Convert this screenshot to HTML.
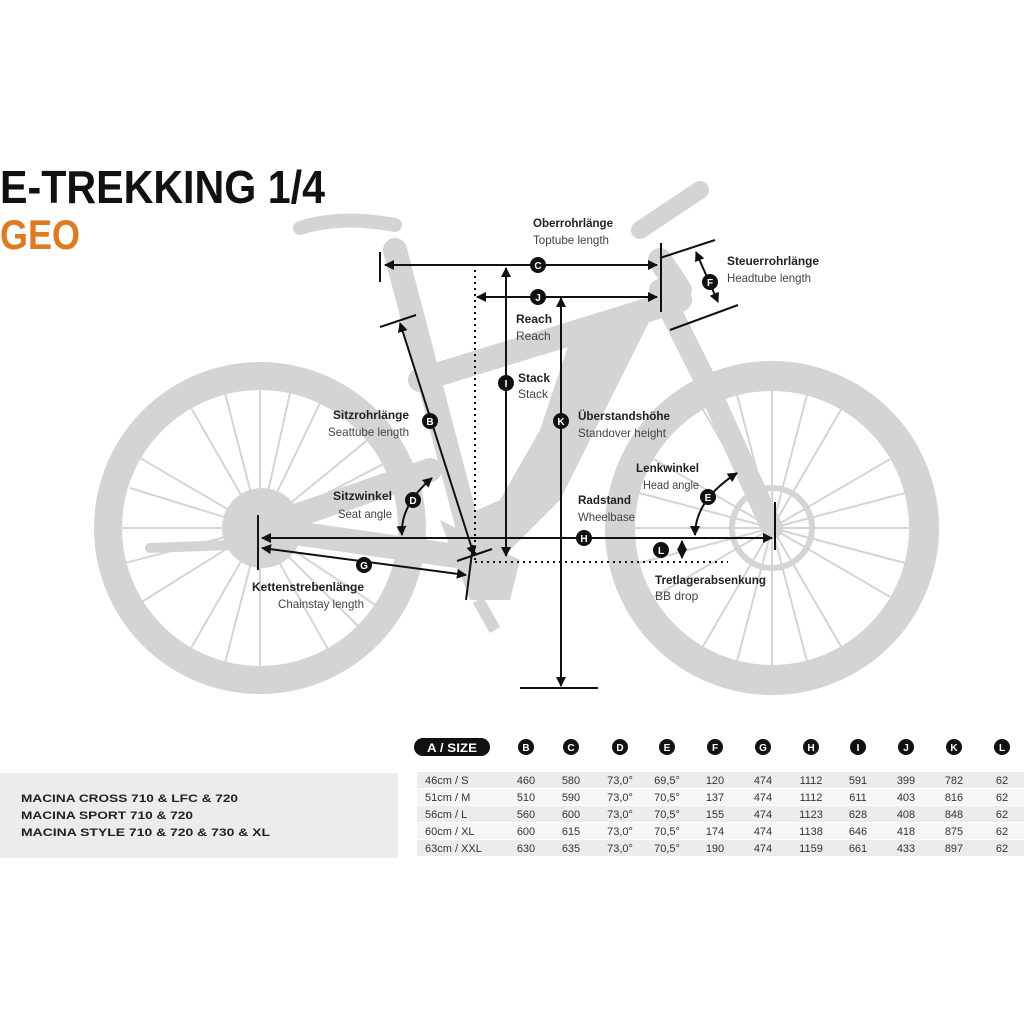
<!DOCTYPE html>
<html><head><meta charset="utf-8"><style>
html,body{margin:0;padding:0;background:#fff}
svg{display:block}
text{font-family:"Liberation Sans",sans-serif}
</style></head><body>
<svg width="1024" height="1024" viewBox="0 0 1024 1024" xmlns="http://www.w3.org/2000/svg">
<defs>
<marker id="ar" viewBox="0 0 10 10" refX="9" refY="5" markerWidth="5" markerHeight="5" orient="auto-start-reverse"><path d="M0,0L10,5L0,10z" fill="#111"/></marker>
</defs>
<!-- title -->
<text x="0" y="203" font-size="46" font-weight="bold" fill="#111" textLength="325" lengthAdjust="spacingAndGlyphs">E-TREKKING 1/4</text>
<text x="0" y="249" font-size="42" font-weight="bold" fill="#e07a1f" textLength="80" lengthAdjust="spacingAndGlyphs">GEO</text>

<!-- bike silhouette -->
<g fill="none" stroke="#d4d4d4">
<circle cx="260" cy="528" r="152" stroke-width="28"/>
<circle cx="772" cy="528" r="152" stroke-width="30"/>
<g stroke-width="2">
<path d="M260 528 l0 -138 M260 528 l60 -125 M260 528 l110 -90 M260 528 l135 -40 M260 528 l140 20 M260 528 l120 80 M260 528 l70 125 M260 528 l0 138 M260 528 l-70 122 M260 528 l-120 75 M260 528 l-138 0 M260 528 l-120 -70 M260 528 l-70 -122 M260 528 l30 -135 M260 528 l-35 135 M260 528 l-135 35 M260 528 l-130 -40 M260 528 l-35 -135 M260 528 l100 100 M260 528 l135 -70"/>
<path d="M772 528 l0 -138 M772 528 l70 -120 M772 528 l120 -70 M772 528 l138 0 M772 528 l120 70 M772 528 l70 120 M772 528 l0 138 M772 528 l-70 120 M772 528 l-120 70 M772 528 l-138 0 M772 528 l-120 -70 M772 528 l-70 -120 M772 528 l35 -133 M772 528 l133 -35 M772 528 l133 35 M772 528 l35 133 M772 528 l-35 133 M772 528 l-133 35 M772 528 l-133 -35 M772 528 l-35 -133"/>
</g>
<g stroke-width="24" stroke-linecap="round" stroke-linejoin="round">
<path d="M395 250 L475 555"/>
<path d="M420 380 L680 300"/>
<path d="M680 290 L660 260"/>
<path d="M260 528 L470 558"/>
<path d="M260 528 L430 470"/>
</g>
<path d="M660 290 L705 380 L772 528" stroke-width="22" stroke-linecap="round"/>
<path d="M640 230 L700 190" stroke-width="18" stroke-linecap="round"/>
<path d="M300 228 Q340 215 395 225" stroke-width="14" stroke-linecap="round"/>
<circle cx="262" cy="528" r="40" fill="#d4d4d4" stroke="none"/>
<circle cx="772" cy="528" r="40" stroke-width="6"/>
<path d="M150 548 L230 545" stroke-width="10" stroke-linecap="round"/>
</g>
<path d="M650 320 L600 420 L560 500 L510 550 L470 570 L455 520 L500 500 L540 430 L570 340 Z" fill="#d4d4d4"/>
<path d="M440 520 L520 560 L510 600 L470 600 Z" fill="#d4d4d4"/>
<path d="M478 600 L495 630" stroke="#d4d4d4" stroke-width="12"/>

<!-- dimension lines -->
<g stroke="#111" stroke-width="2" fill="none">
<line x1="380" y1="252" x2="380" y2="282"/>
<line x1="385" y1="265" x2="657" y2="265" marker-start="url(#ar)" marker-end="url(#ar)"/>
<line x1="477" y1="297" x2="657" y2="297" marker-start="url(#ar)" marker-end="url(#ar)"/>
<line x1="661" y1="243" x2="661" y2="312"/>
<line x1="660" y1="258" x2="715" y2="240"/>
<line x1="670" y1="330" x2="738" y2="305"/>
<line x1="696" y1="252" x2="718" y2="302" marker-start="url(#ar)" marker-end="url(#ar)"/>
<line x1="506" y1="268" x2="506" y2="556" marker-start="url(#ar)" marker-end="url(#ar)"/>
<line x1="561" y1="298" x2="561" y2="686" marker-start="url(#ar)" marker-end="url(#ar)"/>
<line x1="520" y1="688" x2="598" y2="688"/>
<line x1="380" y1="327" x2="416" y2="315"/>
<line x1="400" y1="323" x2="474" y2="555" marker-start="url(#ar)" marker-end="url(#ar)"/>
<line x1="457" y1="561" x2="492" y2="549"/>
<line x1="473" y1="545" x2="466" y2="600"/>
<line x1="258" y1="515" x2="258" y2="570"/>
<line x1="262" y1="538" x2="772" y2="538" marker-start="url(#ar)" marker-end="url(#ar)"/>
<line x1="775" y1="502" x2="775" y2="550"/>
<line x1="262" y1="548" x2="466" y2="575" marker-start="url(#ar)" marker-end="url(#ar)"/>
<path d="M402 535 Q400 505 432 478" marker-start="url(#ar)" marker-end="url(#ar)"/>
<path d="M695 535 Q695 500 737 473" marker-start="url(#ar)" marker-end="url(#ar)"/>
<line x1="682" y1="541" x2="682" y2="558" marker-start="url(#ar)" marker-end="url(#ar)"/>
</g>
<g stroke="#111" stroke-width="2" stroke-dasharray="2,4">
<line x1="475" y1="264" x2="475" y2="562"/>
<line x1="475" y1="562" x2="728" y2="562"/>
</g>
<g font-size="10" font-weight="bold" text-anchor="middle" fill="#fff">
<circle cx="538" cy="265" r="8" fill="#111"/><text x="538" y="269">C</text>
<circle cx="538" cy="297" r="8" fill="#111"/><text x="538" y="301">J</text>
<circle cx="710" cy="282" r="8" fill="#111"/><text x="710" y="286">F</text>
<circle cx="506" cy="383" r="8" fill="#111"/><text x="506" y="387">I</text>
<circle cx="561" cy="421" r="8" fill="#111"/><text x="561" y="425">K</text>
<circle cx="430" cy="421" r="8" fill="#111"/><text x="430" y="425">B</text>
<circle cx="413" cy="500" r="8" fill="#111"/><text x="413" y="504">D</text>
<circle cx="708" cy="497" r="8" fill="#111"/><text x="708" y="501">E</text>
<circle cx="584" cy="538" r="8" fill="#111"/><text x="584" y="542">H</text>
<circle cx="661" cy="550" r="8" fill="#111"/><text x="661" y="554">L</text>
<circle cx="364" cy="565" r="8" fill="#111"/><text x="364" y="569">G</text>
</g>
<g font-size="12" fill="#222">
<text x="533" y="227" font-weight="bold" textLength="80" lengthAdjust="spacingAndGlyphs">Oberrohrlänge</text><text x="533" y="244" fill="#444" textLength="76" lengthAdjust="spacingAndGlyphs">Toptube length</text>
<text x="727" y="265" font-weight="bold" textLength="92" lengthAdjust="spacingAndGlyphs">Steuerrohrlänge</text><text x="727" y="282" fill="#444" textLength="84" lengthAdjust="spacingAndGlyphs">Headtube length</text>
<text x="516" y="323" font-weight="bold">Reach</text><text x="516" y="340" fill="#444">Reach</text>
<text x="518" y="382" font-weight="bold">Stack</text><text x="518" y="398" fill="#444">Stack</text>
<text x="578" y="420" font-weight="bold" textLength="92" lengthAdjust="spacingAndGlyphs">Überstandshöhe</text><text x="578" y="437" fill="#444" textLength="88" lengthAdjust="spacingAndGlyphs">Standover height</text>
<text x="333" y="419" font-weight="bold" textLength="76" lengthAdjust="spacingAndGlyphs">Sitzrohrlänge</text><text x="328" y="436" fill="#444" textLength="81" lengthAdjust="spacingAndGlyphs">Seattube length</text>
<text x="333" y="500" font-weight="bold" textLength="59" lengthAdjust="spacingAndGlyphs">Sitzwinkel</text><text x="338" y="518" fill="#444" textLength="54" lengthAdjust="spacingAndGlyphs">Seat angle</text>
<text x="636" y="472" font-weight="bold" textLength="63" lengthAdjust="spacingAndGlyphs">Lenkwinkel</text><text x="643" y="489" fill="#444" textLength="56" lengthAdjust="spacingAndGlyphs">Head angle</text>
<text x="578" y="504" font-weight="bold" textLength="53" lengthAdjust="spacingAndGlyphs">Radstand</text><text x="578" y="521" fill="#444" textLength="57" lengthAdjust="spacingAndGlyphs">Wheelbase</text>
<text x="252" y="591" font-weight="bold" textLength="112" lengthAdjust="spacingAndGlyphs">Kettenstrebenlänge</text><text x="278" y="608" fill="#444" textLength="86" lengthAdjust="spacingAndGlyphs">Chainstay length</text>
<text x="655" y="584" font-weight="bold" textLength="111" lengthAdjust="spacingAndGlyphs">Tretlagerabsenkung</text><text x="655" y="600" fill="#444">BB drop</text>
</g>

<!-- table -->
<rect x="414" y="738" width="76" height="18" rx="9" fill="#111"/>
<text x="452" y="752" font-size="12" fill="#fff" text-anchor="middle" font-weight="bold" textLength="50" lengthAdjust="spacingAndGlyphs">A / SIZE</text>
<g font-size="10" font-weight="bold" text-anchor="middle" fill="#fff">
<circle cx="526" cy="747" r="8" fill="#111"/><text x="526" y="751">B</text>
<circle cx="571" cy="747" r="8" fill="#111"/><text x="571" y="751">C</text>
<circle cx="620" cy="747" r="8" fill="#111"/><text x="620" y="751">D</text>
<circle cx="667" cy="747" r="8" fill="#111"/><text x="667" y="751">E</text>
<circle cx="715" cy="747" r="8" fill="#111"/><text x="715" y="751">F</text>
<circle cx="763" cy="747" r="8" fill="#111"/><text x="763" y="751">G</text>
<circle cx="811" cy="747" r="8" fill="#111"/><text x="811" y="751">H</text>
<circle cx="858" cy="747" r="8" fill="#111"/><text x="858" y="751">I</text>
<circle cx="906" cy="747" r="8" fill="#111"/><text x="906" y="751">J</text>
<circle cx="954" cy="747" r="8" fill="#111"/><text x="954" y="751">K</text>
<circle cx="1002" cy="747" r="8" fill="#111"/><text x="1002" y="751">L</text>
</g>
<rect x="0" y="773" width="398" height="85" fill="#ececec"/>
<g font-size="11" fill="#222" font-weight="bold">
<text x="21" y="802" textLength="217" lengthAdjust="spacingAndGlyphs">MACINA CROSS  710 &amp; LFC &amp; 720</text>
<text x="21" y="819" textLength="172" lengthAdjust="spacingAndGlyphs">MACINA SPORT 710 &amp; 720</text>
<text x="21" y="836" textLength="249" lengthAdjust="spacingAndGlyphs">MACINA STYLE 710 &amp; 720 &amp; 730 &amp; XL</text>
</g>
<g fill="#ececec">
<rect x="417" y="772" width="607" height="16"/>
<rect x="417" y="789" width="607" height="16" fill="#f6f6f6"/>
<rect x="417" y="806" width="607" height="16"/>
<rect x="417" y="823" width="607" height="16" fill="#f6f6f6"/>
<rect x="417" y="840" width="607" height="16"/>
</g>
<g font-size="11" fill="#333" text-anchor="middle">
<g text-anchor="start">
<text x="425" y="784">46cm / S</text><text x="425" y="801">51cm / M</text><text x="425" y="818">56cm / L</text><text x="425" y="835">60cm / XL</text><text x="425" y="852">63cm / XXL</text>
</g>
<text x="526" y="784">460</text><text x="571" y="784">580</text><text x="620" y="784">73,0°</text><text x="667" y="784">69,5°</text><text x="715" y="784">120</text><text x="763" y="784">474</text><text x="811" y="784">1112</text><text x="858" y="784">591</text><text x="906" y="784">399</text><text x="954" y="784">782</text><text x="1002" y="784">62</text>
<text x="526" y="801">510</text><text x="571" y="801">590</text><text x="620" y="801">73,0°</text><text x="667" y="801">70,5°</text><text x="715" y="801">137</text><text x="763" y="801">474</text><text x="811" y="801">1112</text><text x="858" y="801">611</text><text x="906" y="801">403</text><text x="954" y="801">816</text><text x="1002" y="801">62</text>
<text x="526" y="818">560</text><text x="571" y="818">600</text><text x="620" y="818">73,0°</text><text x="667" y="818">70,5°</text><text x="715" y="818">155</text><text x="763" y="818">474</text><text x="811" y="818">1123</text><text x="858" y="818">628</text><text x="906" y="818">408</text><text x="954" y="818">848</text><text x="1002" y="818">62</text>
<text x="526" y="835">600</text><text x="571" y="835">615</text><text x="620" y="835">73,0°</text><text x="667" y="835">70,5°</text><text x="715" y="835">174</text><text x="763" y="835">474</text><text x="811" y="835">1138</text><text x="858" y="835">646</text><text x="906" y="835">418</text><text x="954" y="835">875</text><text x="1002" y="835">62</text>
<text x="526" y="852">630</text><text x="571" y="852">635</text><text x="620" y="852">73,0°</text><text x="667" y="852">70,5°</text><text x="715" y="852">190</text><text x="763" y="852">474</text><text x="811" y="852">1159</text><text x="858" y="852">661</text><text x="906" y="852">433</text><text x="954" y="852">897</text><text x="1002" y="852">62</text>
</g>
</svg>
</body></html>
